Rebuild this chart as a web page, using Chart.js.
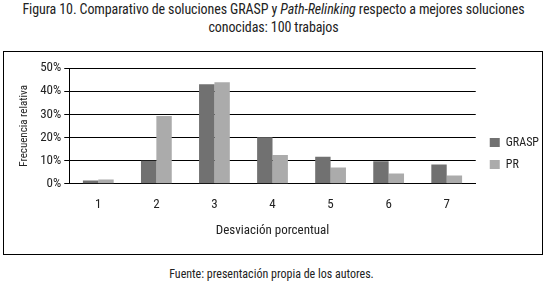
<!DOCTYPE html>
<html>
<head>
<meta charset="utf-8">
<script src="https://cdn.jsdelivr.net/npm/chart.js@4/dist/chart.umd.min.js"></script>
<style>
  body { margin: 0; width: 547px; height: 282px; background: #fff; position: relative; overflow: hidden;
         font-family: 'Roboto Condensed', 'Roboto', sans-serif; font-stretch: condensed; color: #222; }
  #titulo { position: absolute; top: 0; left: 0; width: 547px; text-align: center; font-size: 14px; line-height: 18px;
            letter-spacing: -0.1px; white-space: nowrap; }
  #marco { position: absolute; left: 3px; top: 51px; width: 540px; height: 204px; border: 1px solid #000; box-sizing: border-box; }
  #marco canvas { position: absolute; left: 0; top: 0; }
  #fuente { position: absolute; top: 267px; left: -2px; width: 547px; text-align: center; font-size: 12px; }
</style>
</head>
<body>
<div id="titulo">Figura 10. Comparativo de soluciones GRASP y <i>Path-Relinking</i> respecto a mejores soluciones<br>conocidas: 100 trabajos</div>
<div id="marco"><canvas id="myChart" width="538" height="202"></canvas></div>
<div id="fuente">Fuente: presentación propia de los autores.</div>
<script>
var fontFamily = "'Roboto Condensed', 'Roboto', sans-serif";

// desviacion porcentual (categorias) y frecuencia relativa en %
var desviaciones = ['1', '2', '3', '4', '5', '6', '7'];
var grasp = [1.4, 9.9, 43.0, 20.1, 11.7, 9.7, 8.3];
var pathRelinking = [1.9, 29.3, 43.9, 12.4, 7.0, 4.4, 3.6];
var yTicks = [0, 10, 20, 30, 40, 50];

Chart.defaults.font.family = fontFamily;
Chart.defaults.color = '#222';

// acerca la leyenda al borde derecho y ensancha el area de barras
var legendGap = {
  id: 'legendGap',
  beforeLayout: function(chart) {
    var legend = chart.legend;
    if (!legend || legend._gapDone) return;
    var fit = legend.fit;
    legend.fit = function() { fit.call(this); this.width -= 3; };
    legend._gapDone = true;
  },
  afterLayout: function(chart) {
    chart.legend.left += 4;
  }
};

var ctx = document.getElementById('myChart').getContext('2d');
var chart = new Chart(ctx, {
  type: 'bar',
  data: {
    labels: desviaciones,
    datasets: [{
      label: 'GRASP',
      backgroundColor: '#717171',
      data: grasp
    }, {
      label: 'PR',
      backgroundColor: '#ababab',
      data: pathRelinking
    }]
  },
  options: {
    responsive: false,
    animation: false,
    categoryPercentage: 0.53,
    barPercentage: 1,
    layout: { padding: { top: 16, right: 0, bottom: 15, left: 14 } },
    plugins: {
      legend: {
        position: 'right',
        labels: { boxWidth: 10, boxHeight: 9, padding: 10, font: { size: 12 }, color: '#222' }
      },
      tooltip: { enabled: false }
    },
    scales: {
      x: {
        grid: { display: false, drawTicks: false },
        border: { display: true, color: '#000', width: 1 },
        ticks: { padding: 13, font: { size: 13 } },
        title: { display: true, text: 'Desviación porcentual', font: { size: 13 }, padding: { top: -2, bottom: 0 } }
      },
      y: {
        min: 0,
        max: 50,
        afterBuildTicks: function(axis) {
          axis.ticks = yTicks.map(function(v) { return { value: v }; });
        },
        grid: { color: '#000', lineWidth: 1, tickLength: 5 },
        border: { display: true, color: '#000', width: 1 },
        ticks: {
          padding: 3,
          font: { size: 13 },
          callback: function(v) { return v + '%'; }
        },
        title: { display: true, text: 'Frecuencia relativa', font: { size: 11 }, padding: { top: 0, bottom: 6 } }
      }
    }
  },
  plugins: [legendGap]
});
</script>
</body>
</html>
